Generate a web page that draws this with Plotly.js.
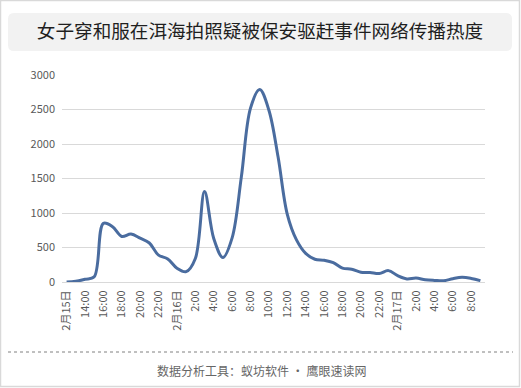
<!DOCTYPE html>
<html>
<head>
<meta charset="utf-8">
<script src="https://cdn.plot.ly/plotly-3.0.1.min.js"></script>
<style>
html,body{margin:0;padding:0;background:#fff;}
#chart{width:521px;height:388px;}
</style>
</head>
<body>
<div id="chart"></div>
<script>
// hourly categories: 2月15日 12:00 -> 2月17日 9:00
const categories = [
  '2月15日','13:00','14:00','15:00','16:00','17:00','18:00','19:00','20:00','21:00','22:00','23:00',
  '2月16日','1:00','2:00','3:00','4:00','5:00','6:00','7:00','8:00','9:00','10:00','11:00',
  '12:00','13:00','14:00','15:00','16:00','17:00','18:00','19:00','20:00','21:00','22:00','23:00',
  '2月17日','1:00','2:00','3:00','4:00','5:00','6:00','7:00','8:00','9:00'
];
const heat = [
  0, 10, 40, 75, 850, 800, 660, 695, 635, 565, 390, 335,
  200, 150, 340, 1310, 630, 355, 640, 1520, 2520, 2790, 2490, 1810,
  980, 610, 415, 330, 315, 280, 200, 185, 142, 138, 123, 165,
  92, 45, 58, 33, 23, 18, 48, 68, 52, 20
];
const yTicks = [0, 500, 1000, 1500, 2000, 2500, 3000];
const titleText = '女子穿和服在洱海拍照疑被保安驱赶事件网络传播热度';
const footerText = '数据分析工具：蚁坊软件 · 鹰眼速读网';

const W = 521, H = 388;
const M = {l: 62, r: 36, t: 75, b: 106};
const PW = W - M.l - M.r, PH = H - M.t - M.b;
const px = v => (v - M.l) / PW;
const py = v => (H - M.b - v) / PH;

const idx = categories.map((_, i) => i);
const tickvals = idx.filter(i => i % 2 === 0);
const ticktext = tickvals.map(i => categories[i]);

function roundRect(x0, y0, x1, y1, r) {
  const X = v => px(v).toFixed(5), Y = v => py(v).toFixed(5);
  return `M${X(x0 + r)},${Y(y0)} L${X(x1 - r)},${Y(y0)} Q${X(x1)},${Y(y0)} ${X(x1)},${Y(y0 + r)} ` +
         `L${X(x1)},${Y(y1 - r)} Q${X(x1)},${Y(y1)} ${X(x1 - r)},${Y(y1)} ` +
         `L${X(x0 + r)},${Y(y1)} Q${X(x0)},${Y(y1)} ${X(x0)},${Y(y1 - r)} ` +
         `L${X(x0)},${Y(y0 + r)} Q${X(x0)},${Y(y0)} ${X(x0 + r)},${Y(y0)} Z`;
}

const font = '"Noto Sans CJK SC", "Noto Sans", sans-serif';

const trace = {
  x: idx,
  y: heat,
  type: 'scatter',
  mode: 'lines',
  line: {color: '#4a6c9f', width: 3, shape: 'spline', smoothing: 1},
  cliponaxis: false,
  hoverinfo: 'skip'
};

const layout = {
  width: W, height: H,
  margin: M,
  paper_bgcolor: '#ffffff',
  plot_bgcolor: '#ffffff',
  showlegend: false,
  font: {family: font, color: '#595959', size: 11},
  title: {
    text: titleText,
    xref: 'container', yref: 'container',
    x: 260 / W, y: 1 - 31 / H,
    xanchor: 'center', yanchor: 'middle',
    font: {family: font, size: 18.6, color: '#1f1f1f'}
  },
  xaxis: {
    range: [-0.5, categories.length - 0.5],
    tickmode: 'array', tickvals: tickvals, ticktext: ticktext,
    tickangle: -90,
    tickfont: {family: font, size: 11, color: '#595959'},
    showgrid: false, zeroline: false,
    showline: true, linecolor: '#d9d9d9', linewidth: 1,
    ticks: '', ticklabelstandoff: 3,
    fixedrange: true
  },
  yaxis: {
    range: [0, 3000],
    tickmode: 'array', tickvals: yTicks,
    tickfont: {family: font, size: 11, color: '#595959'},
    showgrid: true, gridcolor: '#d9d9d9', gridwidth: 1,
    zeroline: false, showline: false,
    ticks: '', ticklabelstandoff: 6,
    fixedrange: true
  },
  shapes: [
    {type: 'rect', xref: 'paper', yref: 'paper', layer: 'below',
     x0: px(0.5), x1: px(519.5), y0: py(0.5), y1: py(386.5),
     line: {color: '#d9d9d9', width: 1.5}, fillcolor: 'rgba(0,0,0,0)'},
    {type: 'path', xref: 'paper', yref: 'paper', layer: 'below',
     path: roundRect(8, 13, 512, 51, 6),
     line: {width: 0}, fillcolor: '#f2f2f2'},
    {type: 'line', xref: 'paper', yref: 'paper',
     x0: px(8), x1: px(513), y0: py(352), y1: py(352),
     line: {color: '#808080', width: 1, dash: 'dot'}}
  ],
  annotations: [
    {text: footerText, xref: 'paper', yref: 'paper',
     x: px(261.5), y: py(370.5), xanchor: 'center', yanchor: 'middle',
     showarrow: false, font: {family: font, size: 12, color: '#666666'}}
  ]
};

Plotly.newPlot('chart', [trace], layout, {displayModeBar: false, staticPlot: true});
</script>
</body>
</html>
